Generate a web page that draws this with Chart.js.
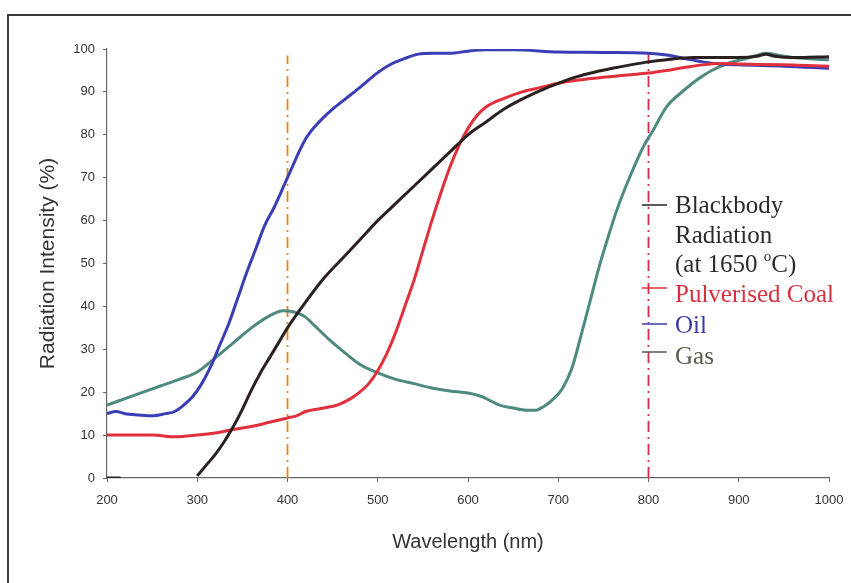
<!DOCTYPE html>
<html>
<head>
<meta charset="utf-8">
<script src="https://cdn.jsdelivr.net/npm/chart.js@4.4.1/dist/chart.umd.min.js"></script>
<style>
  html, body { margin: 0; padding: 0; background: #ffffff; }
  #wrap { position: relative; width: 851px; height: 583px; overflow: hidden; }
  #frame { position: absolute; left: 7px; top: 14px; width: 860px; height: 600px;
           border-top: 2px solid #3a3a3a; border-left: 2px solid #3a3a3a; }
  #c { position: absolute; left: 0; top: 0; }
</style>
</head>
<body>
<div id="wrap">
  <div id="frame"></div>
  <canvas id="c" width="851" height="583"></canvas>
</div>
<script>
// ---- Data ----
const xTicks = [200, 300, 400, 500, 600, 700, 800, 900, 1000];
const yTicks = [0, 10, 20, 30, 40, 50, 60, 70, 80, 90, 100];

const blackbodyX = [200, 215, 216, 300, 310, 320, 330, 340, 350, 360, 370, 380, 390, 400, 420, 440, 460, 480, 500, 520, 540, 560, 580, 600, 620, 640, 660, 680, 700, 720, 740, 760, 780, 800, 820, 850, 900, 920, 930, 940, 960, 1000];
const blackbodyY = [0, 0, null, 0.5, 3, 5.5, 8.5, 12, 16, 20.5, 24.5, 28, 31.5, 35, 41, 46.5, 51, 55.5, 60, 64, 68, 72, 76, 80, 83, 86, 88.3, 90.3, 92, 93.5, 94.6, 95.5, 96.3, 97, 97.5, 98, 98, 98.3, 98.8, 98.3, 98, 98.2];

const coalX = [200, 250, 275, 300, 320, 340, 360, 380, 400, 410, 420, 440, 455, 470, 480, 490, 500, 510, 520, 530, 540, 550, 560, 570, 580, 590, 600, 610, 620, 640, 660, 680, 700, 720, 740, 760, 780, 800, 820, 840, 860, 880, 900, 950, 1000];
const coalY = [10, 10, 9.6, 10, 10.5, 11.3, 12, 13, 14, 14.5, 15.5, 16.3, 17, 18.5, 20, 22, 25, 29, 34, 40, 46, 53, 60, 66.5, 72.5, 77.5, 81.5, 84.5, 86.5, 88.5, 90, 91, 92, 92.7, 93.2, 93.6, 94, 94.4, 95, 95.7, 96.3, 96.6, 96.5, 96.3, 96];

const oilX = [200, 210, 220, 235, 250, 265, 275, 285, 295, 305, 315, 325, 335, 345, 355, 365, 375, 385, 400, 420, 435, 450, 465, 480, 500, 515, 530, 545, 560, 580, 600, 620, 650, 700, 750, 800, 820, 840, 860, 880, 900, 950, 1000];
const oilY = [15, 15.5, 15, 14.7, 14.5, 15, 15.5, 17, 19, 22, 26, 31, 36, 42, 48, 53.5, 59, 63, 70, 79, 83, 86, 88.5, 91, 94.5, 96.5, 97.8, 98.8, 99, 99, 99.5, 99.8, 99.8, 99.3, 99.2, 99, 98.6, 97.8, 97, 96.5, 96.3, 96, 95.5];

const gasX = [200, 220, 240, 260, 280, 300, 320, 340, 360, 380, 395, 405, 420, 430, 445, 460, 480, 500, 520, 540, 560, 580, 600, 615, 625, 635, 650, 665, 675, 685, 695, 705, 715, 725, 735, 745, 755, 765, 775, 785, 795, 805, 820, 840, 855, 870, 890, 905, 920, 930, 945, 960, 1000];
const gasY = [17, 18.5, 20, 21.5, 23, 24.7, 28, 31.5, 35, 37.8, 39, 38.8, 37.5, 35.5, 32.5, 29.8, 26.5, 24.5, 23, 22, 21, 20.3, 19.8, 19, 18, 17, 16.3, 15.8, 15.8, 16.8, 18.5, 21, 25.5, 33, 41, 49, 56, 62.5, 68, 73, 77.5, 81, 86.5, 90.5, 93, 95, 96.8, 97.6, 98.5, 99, 98.5, 98, 97.5];

const markerLineX = [400, 800];
const markerLineTop = [98.5, 100];

const legendLines = ['Blackbody', 'Radiation', '(at 1650 ', 'Pulverised Coal', 'Oil', 'Gas'];

// ---- helpers ----
function pts(xs, ys) { return xs.map((x, i) => ({ x: x, y: ys[i] })); }

const COL_BB = '#2a2020';
const COL_COAL = '#e0303c';
const COL_OIL = '#3b3db4';
const COL_GAS = '#4f8a7e';

const lineStyle = { borderWidth: 3, pointRadius: 0, cubicInterpolationMode: 'monotone', fill: false, spanGaps: false };

const legendPlugin = {
  id: 'legendText',
  afterDraw(chart) {
    const ctx = chart.ctx;
    ctx.save();
    const font = '25px "Liberation Serif", "Times New Roman", serif';
    ctx.font = font;
    ctx.textBaseline = 'alphabetic';
    ctx.textAlign = 'left';
    const tx = 675;
    const markers = [[205, COL_BB], [288, COL_COAL], [324, COL_OIL], [352, '#555a50']];
    ctx.lineWidth = 1.5;
    markers.forEach(([y, c]) => {
      ctx.strokeStyle = c;
      ctx.beginPath(); ctx.moveTo(642, y); ctx.lineTo(667, y); ctx.stroke();
    });
    ctx.fillStyle = '#2b2b2b';
    ctx.fillText(legendLines[0], tx, 213);
    ctx.fillText(legendLines[1], tx, 243);
    ctx.fillText(legendLines[2], tx, 272);
    let w = ctx.measureText(legendLines[2]).width;
    ctx.font = '15px "Liberation Serif", "Times New Roman", serif';
    ctx.fillText('o', tx + w, 261);
    const wo = ctx.measureText('o').width;
    ctx.font = font;
    ctx.fillText('C)', tx + w + wo, 272);
    ctx.fillStyle = '#d8303e';
    ctx.fillText(legendLines[3], tx, 302);
    ctx.fillStyle = '#3a3aa6';
    ctx.fillText(legendLines[4], tx, 333);
    ctx.fillStyle = '#56604a';
    ctx.fillText(legendLines[5], tx, 364);
    ctx.restore();
  }
};

new Chart(document.getElementById('c'), {
  type: 'line',
  data: {
    datasets: [
      Object.assign({ label: 'Blackbody Radiation (at 1650 °C)', data: pts(blackbodyX, blackbodyY), borderColor: COL_BB }, lineStyle),
      Object.assign({ label: 'Pulverised Coal', data: pts(coalX, coalY), borderColor: COL_COAL }, lineStyle),
      Object.assign({ label: 'Oil', data: pts(oilX, oilY), borderColor: COL_OIL }, lineStyle),
      Object.assign({ label: 'Gas', data: pts(gasX, gasY), borderColor: COL_GAS }, lineStyle),
      { label: '400 nm', data: [{ x: markerLineX[0], y: 0 }, { x: markerLineX[0], y: markerLineTop[0] }], borderColor: '#ea8418', borderWidth: 1.8, borderDash: [11, 5, 2, 5], pointRadius: 0, tension: 0 },
      { label: '800 nm', data: [{ x: markerLineX[1], y: 0 }, { x: markerLineX[1], y: markerLineTop[1] }], borderColor: '#d42a4e', borderWidth: 1.8, borderDash: [11, 5, 2, 5], pointRadius: 0, tension: 0 }
    ]
  },
  options: {
    responsive: false,
    animation: false,
    events: [],
    layout: { padding: { top: 49, right: 22, left: 0, bottom: 0 } },
    plugins: { legend: { display: false }, tooltip: { enabled: false } },
    scales: {
      x: {
        type: 'linear', min: xTicks[0], max: xTicks[xTicks.length - 1],
        afterFit(s) { s.height = 105; s.paddingRight = 0; s.paddingLeft = 0; },
        afterBuildTicks(s) { s.ticks = xTicks.map(v => ({ value: v })); },
        grid: { display: true, drawOnChartArea: false, drawTicks: true, tickLength: 4, color: '#666' },
        border: { display: true, color: '#666', width: 1.2 },
        ticks: { color: '#333', font: { family: '"Liberation Sans", Arial, sans-serif', size: 13 }, padding: 11, maxRotation: 0, callback: v => String(v) },
        title: { display: true, text: 'Wavelength (nm)', color: '#333', font: { family: '"Liberation Sans", Arial, sans-serif', size: 20 }, padding: { top: 0, bottom: 29 } }
      },
      y: {
        type: 'linear', min: yTicks[0], max: yTicks[yTicks.length - 1],
        afterFit(s) { s.width = 107; s.paddingTop = 0; s.paddingBottom = 0; },
        afterBuildTicks(s) { s.ticks = yTicks.map(v => ({ value: v })); },
        grid: { display: true, drawOnChartArea: false, drawTicks: true, tickLength: 4, color: '#666' },
        border: { display: true, color: '#666', width: 1.2 },
        ticks: { color: '#333', font: { family: '"Liberation Sans", Arial, sans-serif', size: 13 }, padding: 8, callback: v => String(v) },
        title: { display: true, text: 'Radiation Intensity (%)', color: '#333', font: { family: '"Liberation Sans", Arial, sans-serif', size: 21 }, padding: { top: 36, bottom: 0 } }
      }
    }
  },
  plugins: [legendPlugin]
});
</script>
</body>
</html>
